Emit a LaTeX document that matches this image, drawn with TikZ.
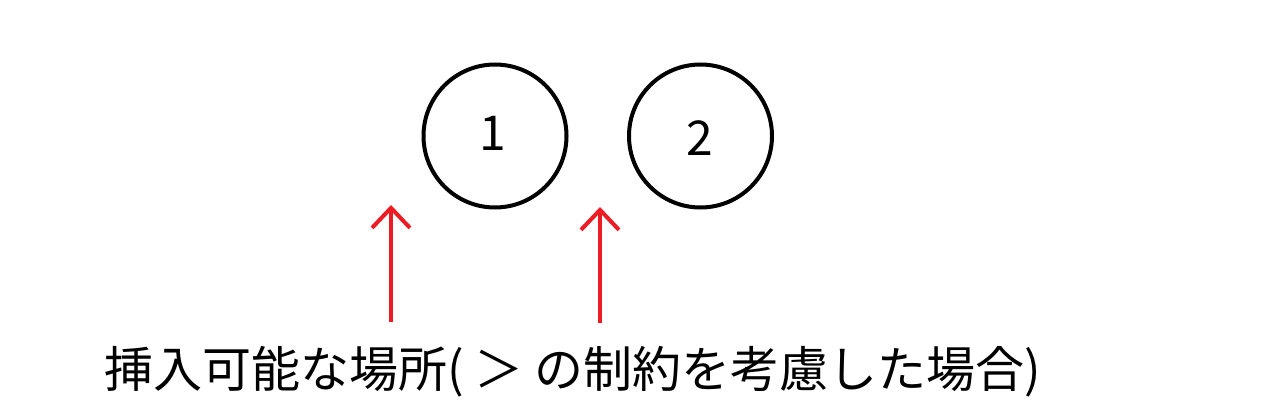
\documentclass[tikz,border=0pt]{standalone}
\usepackage{fontspec}
\setmainfont{Noto Sans CJK JP}
\usetikzlibrary{arrows.meta}
\definecolor{arrred}{RGB}{237,28,36}
\tikzset{
  nodecirc/.style={circle, draw=black, line width=4pt, minimum size=143pt, inner sep=0pt},
  digit/.style={font=\fontsize{48}{50}\selectfont, inner sep=0pt, anchor=base},
  insarrow/.style={draw=arrred, line width=4pt, -{Straight Barb[length=20pt, width=38pt, line width=4pt]}},
  caption/.style={font=\fontsize{49}{52}\selectfont, inner sep=0pt, anchor=base west}
}
\begin{document}
\begin{tikzpicture}[x=1pt, y=-1pt]
\useasboundingbox (0,0) rectangle (1267,420);
\node[nodecirc] (c1) at (495,136) {};
\node[nodecirc] (c2) at (700.5,136) {};
\node[digit] (l1) at (493,150) {1};
\node[digit] (l2) at (700,155) {2};
\coordinate (a1s) at (391,322);
\coordinate (a1e) at (391,205);
\coordinate (a2s) at (600,323);
\coordinate (a2e) at (600,207);
\draw[insarrow] (a1s) -- (a1e);
\draw[insarrow] (a2s) -- (a2e);
\node[caption] (cap) at (104,387) {挿入可能な場所( ＞ の制約を考慮した場合)};
\end{tikzpicture}
\end{document}
